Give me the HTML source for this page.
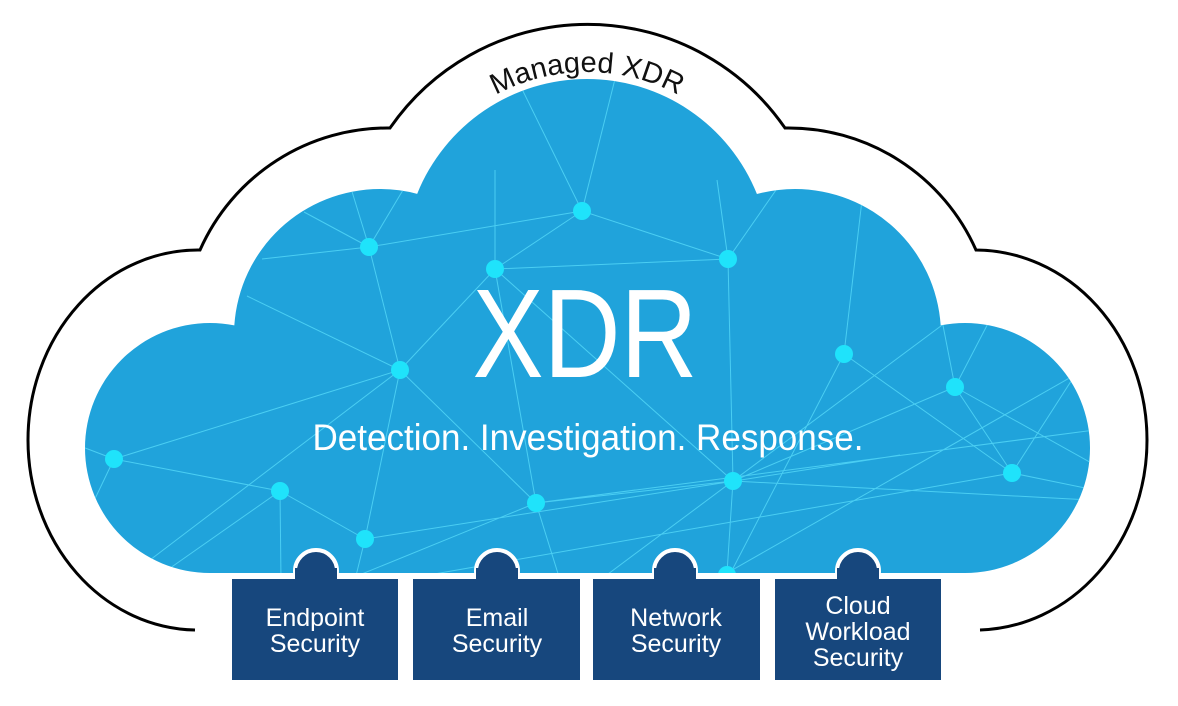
<!DOCTYPE html>
<html><head><meta charset="utf-8"><style>
html,body{margin:0;padding:0;background:#fff;width:1178px;height:706px;overflow:hidden}
svg{display:block}
text{font-family:"Liberation Sans",sans-serif}
</style></head><body>
<svg width="1178" height="706" viewBox="0 0 1178 706" xmlns="http://www.w3.org/2000/svg">
<defs>
<clipPath id="cl">
<circle cx="210" cy="448" r="125"/>
<circle cx="965" cy="448" r="125"/>
<circle cx="380" cy="335" r="146"/>
<circle cx="795" cy="335" r="146"/>
<circle cx="587" cy="262" r="183"/>
<rect x="210" y="370" width="755" height="203"/>
</clipPath>
<path id="arc" d="M395,264 A192,192 0 0 1 779,264"/>
</defs>
<path d="M195,630 A170,190 0 0 1 28,440 A170,190 0 0 1 200,250 A205,205 0 0 1 390,128 A240,240 0 0 1 785,128 A205,205 0 0 1 976,250 A172,190 0 0 1 1147,440 A172,190 0 0 1 980,630" fill="none" stroke="#000" stroke-width="3"/>
<text font-size="29" fill="#111"><textPath href="#arc" startOffset="50%" text-anchor="middle">Managed XDR</textPath></text>
<g clip-path="url(#cl)">
<rect x="0" y="0" width="1178" height="706" fill="#20a3db"/>
<g stroke="#4fd3f5" stroke-width="1" fill="none" opacity="0.9">
<path d="M369,247 L582,211 M369,247 L262,259 M369,247 L304,212 M369,247 L350,185 M369,247 L406,185 M369,247 L400,370
M400,370 L247,296 M400,370 L114,459 M400,370 L495,269 M400,370 L536,503 M400,370 L150,560 M400,370 L365,539
M114,459 L280,491 M114,459 L80,446 M114,459 L92,505 M280,491 L163,573 M280,491 L365,539 M280,491 L281,580
M365,539 L355,580 M495,269 L495,170 M495,269 L728,259 M495,269 L536,503 M495,269 L733,481 M495,269 L582,211
M582,211 L520,85 M582,211 L616,75 M582,211 L728,259 M536,503 L733,481 M536,503 L347,580 M536,503 L560,580
M728,259 L783,180 M728,259 L717,180 M728,259 L733,481 M733,481 L727,573 M733,481 L1090,500 M733,481 L955,387
M844,354 L862,200 M844,354 L1012,473 M844,354 L727,580 M955,387 L940,310 M955,387 L995,310 M955,387 L1012,473 M955,387 L1095,465
M1012,473 L1075,375 M1012,473 L1095,490 M953,317 L600,580 M727,573 L1080,372 M1012,473 L400,580 M536,503 L1095,430 M365,539 L900,455"/>
</g>
<g fill="#1fe3fb">
<circle cx="369" cy="247" r="9"/><circle cx="495" cy="269" r="9"/><circle cx="582" cy="211" r="9"/>
<circle cx="728" cy="259" r="9"/><circle cx="400" cy="370" r="9"/><circle cx="844" cy="354" r="9"/>
<circle cx="955" cy="387" r="9"/><circle cx="1012" cy="473" r="9"/><circle cx="733" cy="481" r="9"/>
<circle cx="536" cy="503" r="9"/><circle cx="280" cy="491" r="9"/><circle cx="114" cy="459" r="9"/>
<circle cx="365" cy="539" r="9"/><circle cx="727" cy="575" r="9"/>
</g>
</g>
<text x="585" y="377" font-size="126" fill="#fff" text-anchor="middle" textLength="225" lengthAdjust="spacingAndGlyphs">XDR</text>
<text x="588" y="450" font-size="37" fill="#fff" text-anchor="middle" textLength="551" lengthAdjust="spacingAndGlyphs">Detection. Investigation. Response.</text>
<g fill="#17477d" stroke="#fff" stroke-width="4">
<circle cx="316" cy="571" r="21"/><circle cx="497" cy="571" r="21"/><circle cx="675" cy="571" r="21"/><circle cx="858" cy="571" r="21"/>
</g>
<g fill="#17477d">
<rect x="232" y="579" width="166" height="101"/>
<rect x="413" y="579" width="167" height="101"/>
<rect x="593" y="579" width="167" height="101"/>
<rect x="775" y="579" width="166" height="101"/>
<rect x="295" y="568" width="42" height="14"/><rect x="476" y="568" width="42" height="14"/>
<rect x="654" y="568" width="42" height="14"/><rect x="837" y="568" width="42" height="14"/>
</g>
<g fill="#fff" font-size="25" text-anchor="middle">
<text x="315" y="626">Endpoint</text><text x="315" y="652">Security</text>
<text x="497" y="626">Email</text><text x="497" y="652">Security</text>
<text x="676" y="626">Network</text><text x="676" y="652">Security</text>
<text x="858" y="614">Cloud</text><text x="858" y="640">Workload</text><text x="858" y="666">Security</text>
</g>
</svg>
</body></html>
